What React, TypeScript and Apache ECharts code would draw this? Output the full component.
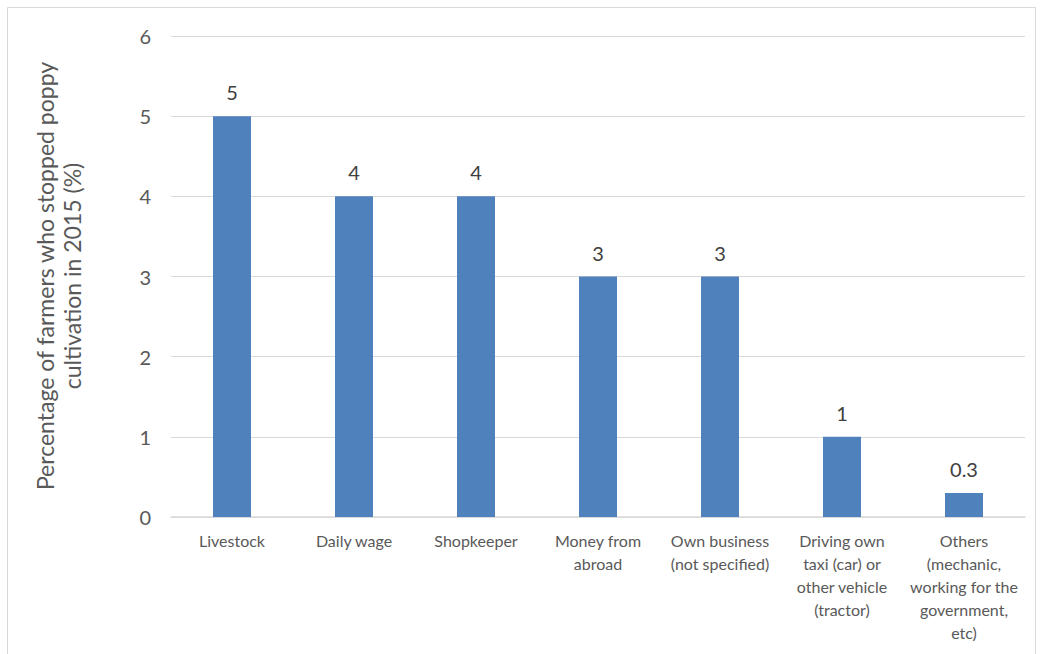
import React, { useEffect, useRef } from "react";
import * as echarts from "echarts";

const categories = [
  "Livestock",
  "Daily wage",
  "Shopkeeper",
  "Money from\nabroad",
  "Own business\n(not specified)",
  "Driving own\ntaxi (car) or\nother vehicle\n(tractor)",
  "Others\n(mechanic,\nworking for the\ngovernment,\netc)",
];
const values = [5, 4, 4, 3, 3, 1, 0.3];
const yTitle = "Percentage of farmers who stopped poppy\ncultivation in 2015 (%)";

const FONT = "Lato, 'Open Sans', sans-serif";

export default function App() {
  const ref = useRef<HTMLDivElement>(null);
  useEffect(() => {
    document.body.style.margin = "0";
    const chart = echarts.init(ref.current!, null, { renderer: "svg" });
    chart.setOption({
      animation: false,
      backgroundColor: "#ffffff",
      textStyle: { fontFamily: FONT },
      graphic: [
        {
          type: "rect",
          shape: { x: 7.5, y: 7.5, width: 1028, height: 660 },
          style: { fill: "none", stroke: "#d9d9d9", lineWidth: 1 },
          silent: true,
        },
        {
          type: "text",
          x: 58,
          y: 276,
          rotation: Math.PI / 2,
          style: {
            text: yTitle,
            fill: "#595959",
            font: `23px ${FONT}`,
            align: "center",
            verticalAlign: "middle",
            lineHeight: 27,
          },
        },
      ],
      grid: { left: 171, right: 18, top: 36, bottom: 137, containLabel: false },
      xAxis: {
        type: "category",
        data: categories,
        axisLine: { lineStyle: { color: "#d9d9d9", width: 1.5 } },
        axisTick: { show: false },
        axisLabel: {
          color: "#595959",
          fontSize: 16,
          lineHeight: 23,
          margin: 12,
          interval: 0,
          fontFamily: FONT,
        },
      },
      yAxis: {
        type: "value",
        min: 0,
        max: 6,
        interval: 1,
        axisLine: { show: false },
        axisTick: { show: false },
        splitLine: { lineStyle: { color: "#d9d9d9", width: 1 } },
        axisLabel: { color: "#595959", fontSize: 20, margin: 20, fontFamily: FONT },
      },
      series: [
        {
          type: "bar",
          data: values,
          barWidth: 38,
          itemStyle: { color: "#4f81bd" },
          label: {
            show: true,
            position: "top",
            distance: 14,
            color: "#404040",
            fontSize: 20,
            fontFamily: FONT,
          },
        },
      ],
    });
    return () => chart.dispose();
  }, []);
  return <div ref={ref} style={{ width: 1043, height: 654 }} />;
}
